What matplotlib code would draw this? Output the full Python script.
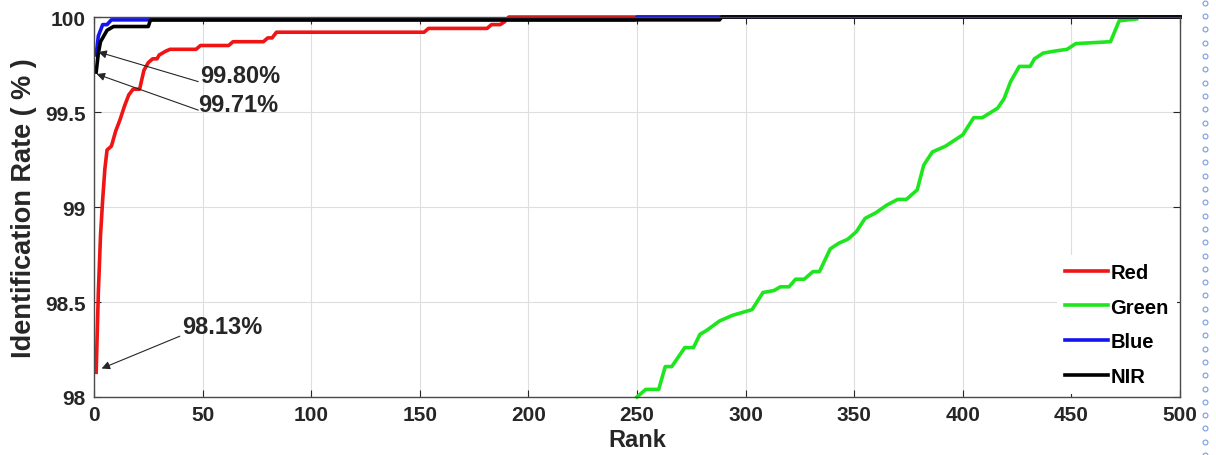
import numpy as np
import matplotlib
matplotlib.use('Agg')
import matplotlib.pyplot as plt
from matplotlib.lines import Line2D

plt.rcParams['font.family'] = ['Liberation Sans', 'DejaVu Sans']
plt.rcParams['font.weight'] = 'bold'

# Red band (rank, identification rate %)
red_rank = [1, 2, 3, 4, 5, 6, 8, 10, 12, 14, 16, 18, 21, 23, 25, 27, 29, 30, 33, 35,
            47, 49, 62, 64, 78, 80, 82, 84, 152, 154, 181, 183, 187, 189, 191, 500]
red_rate = [98.13, 98.55, 98.85, 99.04, 99.20, 99.30, 99.32, 99.40, 99.46, 99.53, 99.59,
            99.62, 99.62, 99.72, 99.76, 99.78, 99.78, 99.80, 99.82, 99.83, 99.83, 99.85,
            99.85, 99.87, 99.87, 99.89, 99.89, 99.92, 99.92, 99.94, 99.94, 99.96, 99.96,
            99.975, 100, 100]

# Green band
green_rank = [250, 254, 260, 263, 266, 272, 276, 279, 282, 288, 294, 300, 303, 308, 313,
              316, 320, 323, 327, 331, 334, 339, 343, 347, 351, 355, 360, 365, 370, 374,
              379, 382, 386, 392, 400, 405, 409, 416, 419, 422, 426, 431, 433, 437, 442,
              448, 452, 468, 472, 480]
green_rate = [98.00, 98.04, 98.04, 98.16, 98.16, 98.26, 98.26, 98.33, 98.35, 98.40, 98.43,
              98.45, 98.46, 98.55, 98.56, 98.58, 98.58, 98.62, 98.62, 98.66, 98.66, 98.78,
              98.81, 98.83, 98.87, 98.94, 98.97, 99.01, 99.04, 99.04, 99.09, 99.22, 99.29,
              99.32, 99.38, 99.47, 99.47, 99.52, 99.57, 99.66, 99.74, 99.74, 99.78, 99.81,
              99.82, 99.83, 99.86, 99.87, 99.98, 99.99]

# Blue band
blue_rank = [1, 2, 3, 4, 6, 8, 249, 250, 500]
blue_rate = [99.80, 99.90, 99.93, 99.96, 99.96, 99.985, 99.985, 100, 100]

# NIR band
nir_rank = [1, 2, 3, 5, 6, 9, 25, 26, 288, 289, 500]
nir_rate = [99.71, 99.81, 99.87, 99.91, 99.93, 99.95, 99.95, 99.985, 99.985, 100, 100]

x_ticks = np.arange(0, 501, 50)
y_ticks = [98, 98.5, 99, 99.5, 100]
y_tick_labels = ['98', '98.5', '99', '99.5', '100']


def main():
    fig = plt.figure(figsize=(12.16, 4.56), dpi=100)
    ax = fig.add_axes([0.0773, 0.1272, 0.8931, 0.8333])

    lw = 2.6
    ax.plot(red_rank, red_rate, color='#f01414', lw=lw, label='Red', clip_on=False)
    ax.plot(green_rank, green_rate, color='#1ee61e', lw=lw, label='Green', clip_on=False)
    ax.plot(blue_rank, blue_rate, color='#1414f0', lw=lw, label='Blue', clip_on=False)
    ax.plot(nir_rank, nir_rate, color='black', lw=lw, label='NIR', clip_on=False)

    ax.set_xlim(0, 500)
    ax.set_ylim(98, 100)
    ax.set_xticks(x_ticks)
    ax.set_yticks(y_ticks)
    ax.set_yticklabels(y_tick_labels)
    ax.tick_params(direction='in', top=True, right=True, length=5, width=0.8,
                   labelsize=15, colors='#262626', pad=6)
    for lab in ax.get_xticklabels() + ax.get_yticklabels():
        lab.set_fontweight('bold')
    ax.grid(True, color='#dedede', lw=0.8)
    ax.set_axisbelow(True)
    for sp in ax.spines.values():
        sp.set_color('#4a4a4a')
        sp.set_linewidth(1.0)

    ax.set_xlabel('Rank', fontsize=17, fontweight='bold', color='#262626', labelpad=3)
    ax.set_ylabel('Identification Rate ( % )', fontsize=19.5, fontweight='bold',
                  color='#262626', labelpad=6)

    # annotations
    arrow = dict(arrowstyle='-|>', color='#262626', lw=0.8, mutation_scale=12,
                 shrinkA=0, shrinkB=0)
    ax.text(48.8, 99.69, '99.80%', fontsize=17, fontweight='bold', color='#262626',
            va='center', ha='left')
    ax.annotate('', xy=(2.0, 99.816), xytext=(48.0, 99.66), arrowprops=arrow)
    ax.text(47.9, 99.54, '99.71%', fontsize=17, fontweight='bold', color='#262626',
            va='center', ha='left')
    ax.annotate('', xy=(1.2, 99.70), xytext=(48.0, 99.51), arrowprops=arrow)
    ax.text(40.5, 98.37, '98.13%', fontsize=17, fontweight='bold', color='#262626',
            va='center', ha='left')
    ax.annotate('', xy=(3.5, 98.15), xytext=(39.5, 98.32), arrowprops=arrow)

    leg = ax.legend(loc='lower right', bbox_to_anchor=(1.0, 0.0), borderaxespad=0.15,
                    fontsize=14.5, handlelength=2.1, handletextpad=0.15,
                    labelspacing=0.78, fancybox=False, frameon=True)
    leg.get_frame().set_edgecolor('none')
    leg.get_frame().set_facecolor('white')
    leg.get_frame().set_alpha(1.0)
    for t in leg.get_texts():
        t.set_fontweight('bold')

    # dotted page border on the right
    ys = np.arange(0.0, 1.0, 13.3 / 456)
    fig.add_artist(Line2D([1205 / 1216] * len(ys), ys, transform=fig.transFigure,
                          ls='none', marker='o', ms=3.5, mfc='white', mec='#7a9be0',
                          mew=0.8))

    fig.savefig('out.png', dpi=100)


if __name__ == "__main__":
    main()
